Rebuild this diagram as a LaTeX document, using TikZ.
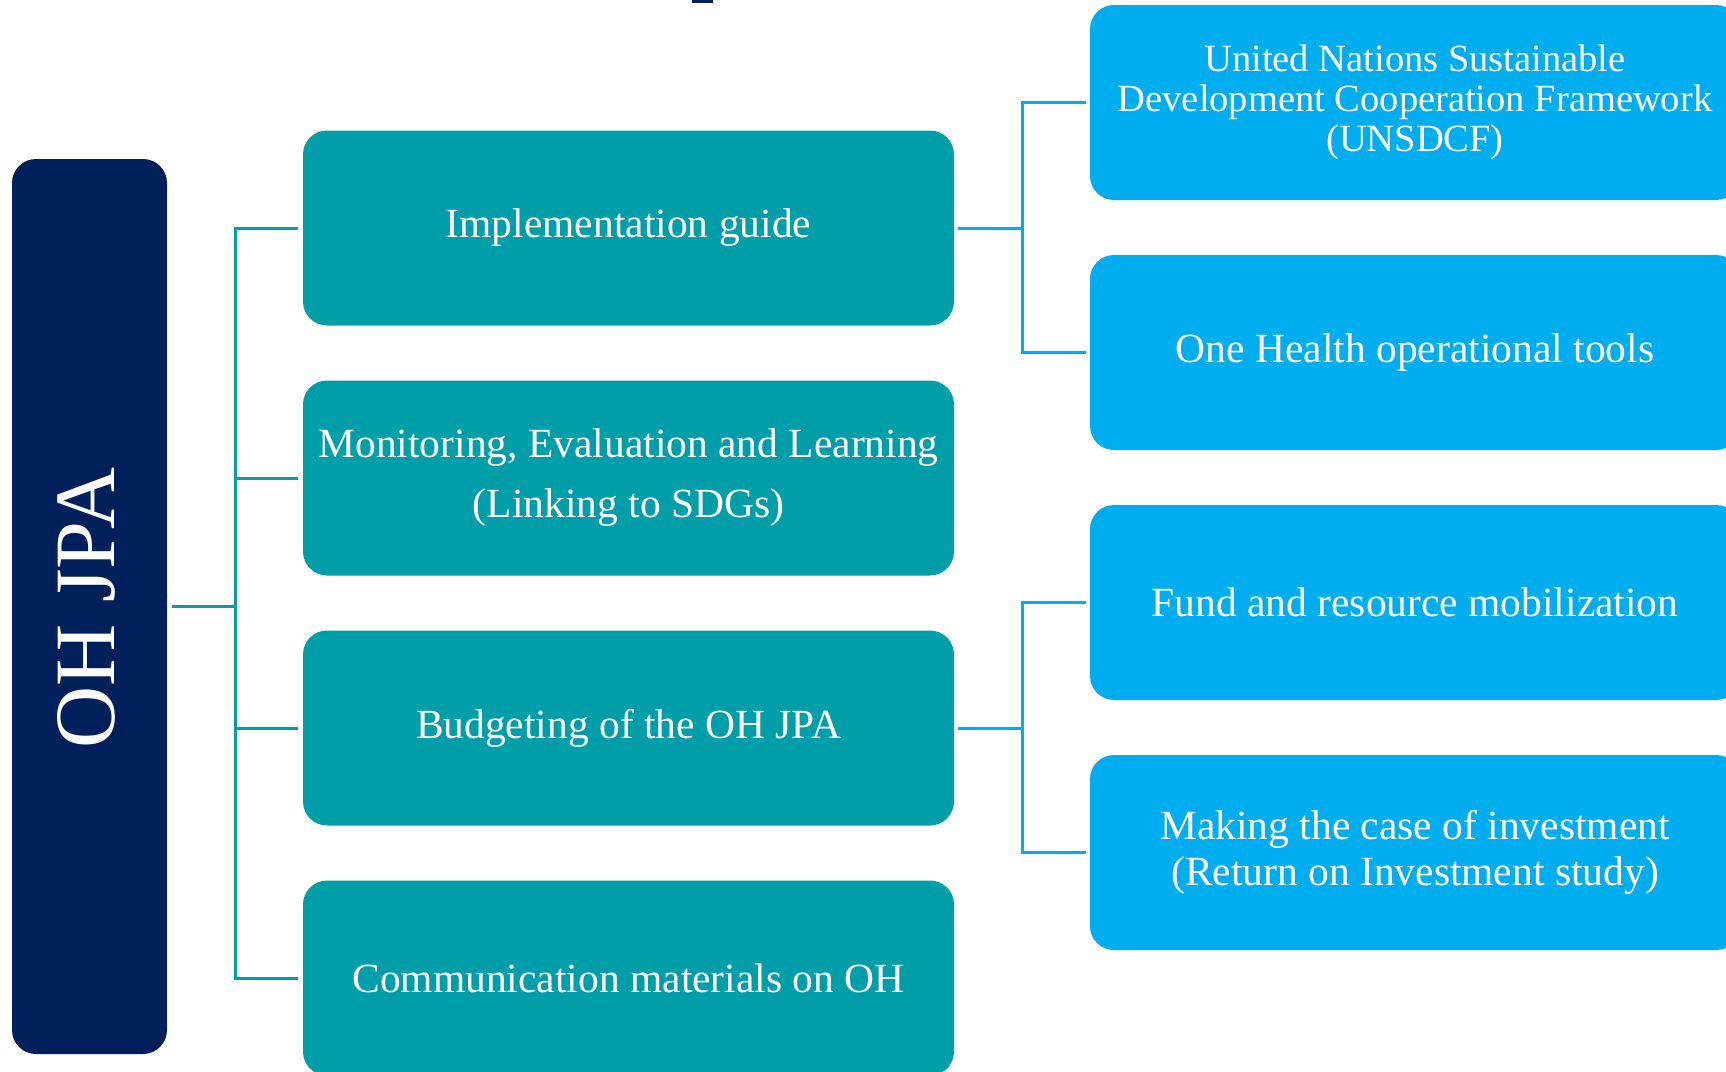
\documentclass[tikz,border=0pt]{standalone}
\usepackage{fontspec}
\setmainfont{Liberation Serif}
\definecolor{navy}{RGB}{0,32,91}
\definecolor{tealc}{RGB}{0,158,168}
\definecolor{bluec}{RGB}{0,174,239}
\tikzset{
  basebox/.style={rounded corners=24pt, inner sep=0pt, text=white, align=center, minimum height=195pt},
  tealbox/.style={basebox, fill=tealc, minimum width=651pt, font=\fontsize{41.5}{60}\selectfont},
  bluebox/.style={basebox, fill=bluec, minimum width=650pt, font=\fontsize{41.5}{46}\selectfont},
  navybox/.style={rounded corners=24pt, fill=navy, inner sep=0pt, minimum width=155pt, minimum height=895pt},
  tline/.style={draw=tealc, line width=3pt, line join=miter},
  bline/.style={draw=bluec, line width=3pt, line join=miter}
}
\begin{document}
\begin{tikzpicture}[x=1pt,y=-1pt]
\useasboundingbox (0,0) rectangle (1726,1071);
\fill[navy] (692,0) rectangle (713,2.5);
% navy column
\node[navybox] (oh) at (89.5,606.5) {};
\node[rotate=90, text=white, inner sep=0pt, font=\fontsize{86}{90}\selectfont] (ohlabel) at (86,608) {OH JPA};
% teal boxes
\node[tealbox] (t1) at (628.5,228) {Implementation guide};
\node[tealbox] (t2) at (628.5,478) {Monitoring, Evaluation and Learning\\(Linking to SDGs)};
\node[tealbox] (t3) at (628.5,728) {Budgeting of the OH JPA};
\node[tealbox] (t4) at (628.5,978) {Communication materials on OH};
% blue boxes
\node[bluebox, font=\fontsize{38.5}{40}\selectfont] (b1) at (1415,102.5) {United Nations Sustainable\\Development Cooperation Framework\\(UNSDCF)};
\node[bluebox] (b2) at (1415,352.5) {One Health operational tools};
\node[bluebox] (b3) at (1415,602.5) {Fund and resource mobilization};
\node[bluebox] (b4) at (1415,852.5) {Making the case of investment\\(Return on Investment study)};
% left tree
\coordinate (ltrunk) at (235,0);
\draw[tline] ([xshift=5pt]oh.east) -- (ltrunk |- oh.east);
\draw[tline] ([xshift=-5pt]t1.west) -- (ltrunk |- t1.west) -- (ltrunk |- t4.west) -- ([xshift=-5pt]t4.west);
\draw[tline] ([xshift=-5pt]t2.west) -- (ltrunk |- t2.west);
\draw[tline] ([xshift=-5pt]t3.west) -- (ltrunk |- t3.west);
% right trees
\coordinate (rtrunk) at (1022,0);
\draw[bline] ([xshift=4pt]t1.east) -- (rtrunk |- t1.east);
\draw[bline] ([xshift=-4pt]b1.west) -- (rtrunk |- b1.west) -- (rtrunk |- b2.west) -- ([xshift=-4pt]b2.west);
\draw[bline] ([xshift=4pt]t3.east) -- (rtrunk |- t3.east);
\draw[bline] ([xshift=-4pt]b3.west) -- (rtrunk |- b3.west) -- (rtrunk |- b4.west) -- ([xshift=-4pt]b4.west);
\end{tikzpicture}
\end{document}
